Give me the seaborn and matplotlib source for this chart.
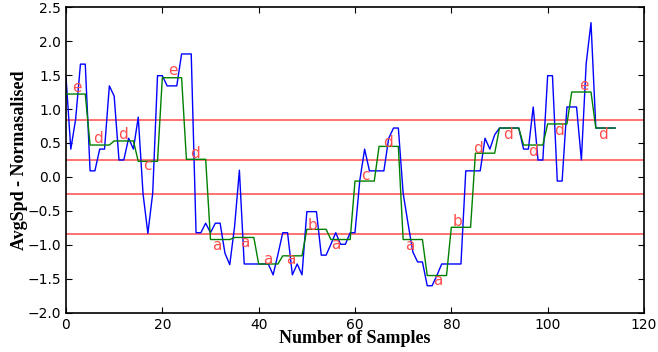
import numpy as np
import pandas as pd
import seaborn as sns
import matplotlib
matplotlib.use('Agg')
import matplotlib.pyplot as plt

# raw normalised speed, one value per sample
avg_spd = [1.47, 0.41, 0.85, 1.66, 1.66, 0.09, 0.09, 0.41, 0.41, 1.34,
           1.19, 0.25, 0.25, 0.57, 0.41, 0.88, -0.25, -0.83, -0.24, 1.49,
           1.49, 1.34, 1.34, 1.34, 1.81, 1.81, 1.81, -0.82, -0.82, -0.68,
           -0.82, -0.68, -0.68, -1.12, -1.29, -0.73, 0.10, -1.28, -1.28, -1.28,
           -1.28, -1.28, -1.28, -1.44, -1.14, -0.82, -0.82, -1.44, -1.28, -1.44,
           -0.51, -0.51, -0.51, -1.15, -1.15, -0.99, -0.82, -0.99, -0.99, -0.82,
           -0.82, -0.05, 0.41, 0.09, 0.09, 0.09, 0.09, 0.57, 0.72, 0.72,
           -0.24, -0.68, -1.10, -1.25, -1.25, -1.60, -1.60, -1.45, -1.28, -1.28,
           -1.28, -1.28, -1.28, 0.09, 0.09, 0.09, 0.09, 0.57, 0.41, 0.62,
           0.72, 0.72, 0.72, 0.72, 0.72, 0.41, 0.41, 1.03, 0.25, 0.25,
           1.49, 1.49, -0.06, -0.06, 1.03, 1.03, 1.03, 0.25, 1.67, 2.27,
           0.72, 0.72, 0.72, 0.72, 0.72]

# PAA segment means (5 samples per segment)
paa = [1.22, 0.47, 0.53, 0.23, 1.46, 0.26, -0.92, -0.89, -1.28, -1.16,
       -0.77, -0.92, -0.06, 0.45, -0.92, -1.45, -0.74, 0.35, 0.72, 0.47,
       0.78, 1.25, 0.72]
seg_len = 5

# SAX symbols and where they are printed
letters = ['e', 'd', 'd', 'c', 'e', 'd', 'a', 'a', 'a', 'a', 'b', 'a',
           'c', 'd', 'a', 'a', 'b', 'd', 'd', 'd', 'd', 'e', 'd']
letter_x = [2.3, 6.6, 11.8, 16.8, 22.2, 26.7, 31.4, 37.1, 41.8, 46.6, 51.1, 56.0,
            62.2, 66.8, 71.3, 77.2, 81.2, 85.5, 91.7, 96.9, 102.3, 107.5, 111.5]
letter_y = [1.32, 0.57, 0.63, 0.17, 1.56, 0.34, -1.01, -0.96, -1.22, -1.22, -0.71, -0.99,
            0.02, 0.50, -1.01, -1.52, -0.66, 0.42, 0.63, 0.38, 0.69, 1.35, 0.63]

breakpoints = [-0.84, -0.25, 0.25, 0.84]

df = pd.DataFrame({'sample': np.arange(len(avg_spd)),
                   'raw': avg_spd,
                   'paa': np.repeat(paa, seg_len)[:len(avg_spd)]})

fig = plt.figure(figsize=(6.58, 3.52), dpi=100)
ax = fig.add_axes([0.1003, 0.111, 0.8784, 0.869])

for b in breakpoints:
    ax.axhline(b, color='#ff5a5a', lw=1.2, zorder=1)

sns.lineplot(data=df, x='sample', y='raw', color='blue', lw=1, ax=ax, zorder=2)
sns.lineplot(data=df, x='sample', y='paa', color='green', lw=1, ax=ax, zorder=3)

for s, x, y in zip(letters, letter_x, letter_y):
    ax.text(x, y, s, color='#ff4d4d', fontsize=11, ha='center', va='center', zorder=4)

ax.set_xlim(0, 120)
ax.set_ylim(-2.0, 2.5)
ax.set_xticks(range(0, 121, 20))
ax.set_yticks(np.arange(-2.0, 2.51, 0.5))
ax.tick_params(direction='in', top=True, right=True, labelsize=10, length=4)
for sp in ax.spines.values():
    sp.set_color('black')
    sp.set_linewidth(1.2)

ax.set_xlabel('Number of Samples', fontsize=13, fontweight='bold',
              family='Liberation Serif', labelpad=-1)
ax.set_ylabel('AvgSpd - Normasalised', fontsize=13, fontweight='bold',
              family='Liberation Serif', labelpad=0)

fig.savefig('out.png', dpi=100)
